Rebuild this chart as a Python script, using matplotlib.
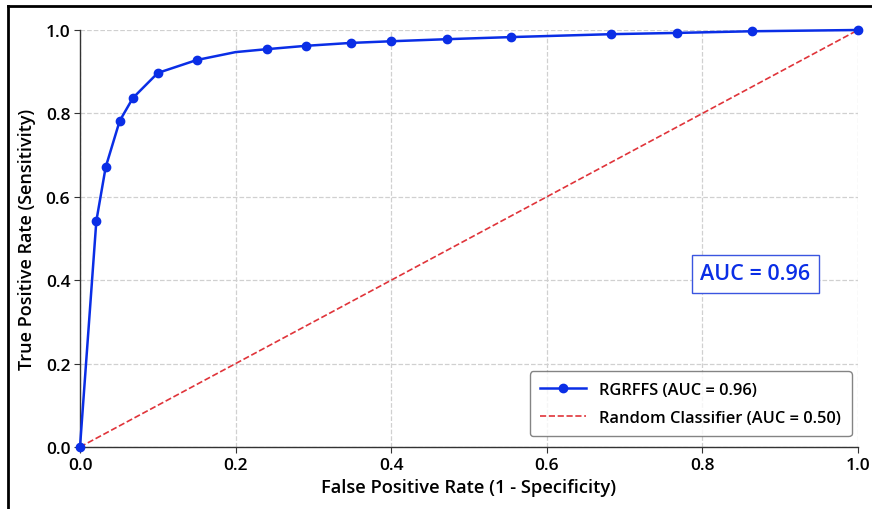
import matplotlib
matplotlib.use("Agg")
import matplotlib.pyplot as plt
from matplotlib.lines import Line2D

plt.rcParams["font.family"] = ["Open Sans", "DejaVu Sans"]
plt.rcParams["font.weight"] = "semibold"
plt.rcParams["axes.labelweight"] = "semibold"

# ROC points
fpr = [0.0, 0.021, 0.033, 0.051, 0.068, 0.100, 0.150, 0.200, 0.240, 0.290,
       0.348, 0.400, 0.472, 0.554, 0.683, 0.767, 0.864, 1.0]
tpr = [0.0, 0.542, 0.671, 0.782, 0.837, 0.897, 0.928, 0.947, 0.954, 0.962,
       0.969, 0.973, 0.978, 0.983, 0.990, 0.993, 0.997, 1.0]
# the point at fpr=0.2 is drawn without a marker
marked = [i for i in range(len(fpr)) if i != 7]

chance = [0.0, 1.0]
model_label = "RGRFFS (AUC = 0.96)"
chance_label = "Random Classifier (AUC = 0.50)"
auc_text = "AUC = 0.96"
ticks = [0.0, 0.2, 0.4, 0.6, 0.8, 1.0]

BLUE = "#0a2ee6"
RED = "#e0343a"

fig = plt.figure(figsize=(8.72, 5.10), dpi=100)
ax = fig.add_axes([80 / 872, 1 - 448 / 510, 778 / 872, 417 / 510])

ax.plot(fpr, tpr, color=BLUE, linewidth=1.8, marker="o", markersize=6,
        markevery=marked, label=model_label, clip_on=False, zorder=4)
ax.plot(chance, chance, color=RED, linestyle="--", linewidth=1.2,
        label=chance_label, zorder=3)

ax.set_xlim(0, 1)
ax.set_ylim(0, 1)
ax.set_xticks(ticks)
ax.set_yticks(ticks)
ax.tick_params(labelsize=12.5, length=4, color="#333333", pad=3)
ax.set_xlabel("False Positive Rate (1 - Specificity)", fontsize=13.2,
              labelpad=4)
ax.set_ylabel("True Positive Rate (Sensitivity)", fontsize=13,
              labelpad=7)

ax.grid(True, linestyle="--", color="#d0d0d0", linewidth=0.9)
ax.set_axisbelow(True)
for side in ("top", "right"):
    ax.spines[side].set_visible(False)
for side in ("left", "bottom"):
    ax.spines[side].set_color("#333333")
    ax.spines[side].set_linewidth(1.0)

leg = ax.legend(loc="lower right", fontsize=11.8, frameon=True,
                fancybox=True, borderpad=0.65, labelspacing=0.7,
                handlelength=2.8, borderaxespad=0,
                bbox_to_anchor=(0.992, 0.026))
leg.get_frame().set_edgecolor("#666666")
leg.get_frame().set_linewidth(1.0)

ax.text(0.868, 0.415, auc_text, transform=ax.transAxes, ha="center",
        va="center", fontsize=15.5, color=BLUE,
        bbox=dict(boxstyle="square,pad=0.4", facecolor="white",
                  edgecolor="#3a55e0", linewidth=1.0))

# screenshot frame on the left and top edges
fig.add_artist(Line2D([8 / 872, 8 / 872], [0, 1 - 7 / 510], color="black",
                      linewidth=2, transform=fig.transFigure))
fig.add_artist(Line2D([8 / 872, 1], [1 - 7 / 510, 1 - 7 / 510], color="black",
                      linewidth=2, transform=fig.transFigure))

fig.savefig("out.png", dpi=100)
